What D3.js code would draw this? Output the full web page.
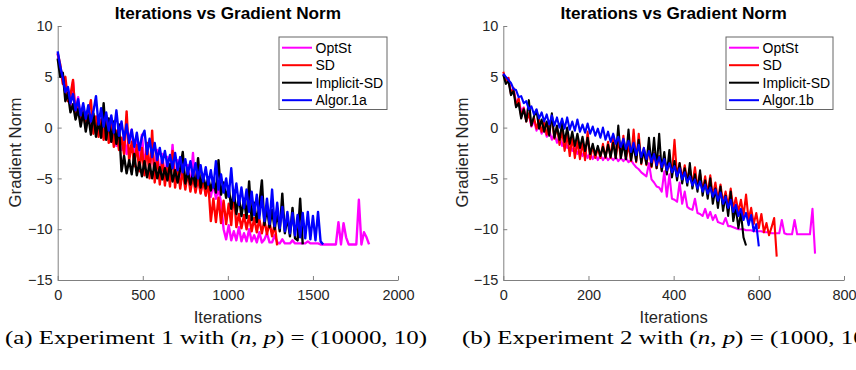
<!DOCTYPE html>
<html><head><meta charset="utf-8">
<script src="https://cdn.jsdelivr.net/npm/d3@7"></script>
<style>body{margin:0;background:#fff}svg{display:block}</style>
</head><body>
<svg id="c" width="856" height="370"></svg>
<script>
// ---------- data ----------
const seriesNamesA = ["OptSt", "SD", "Implicit-SD", "Algor.1a"];
const seriesNamesB = ["OptSt", "SD", "Implicit-SD", "Algor.1b"];
const seriesColors = ["#ff00ff", "#ff0000", "#000000", "#0000ff"];
const yTicks = [10, 5, 0, -5, -10, -15];
const xTicksA = [0, 500, 1000, 1500, 2000];
const xTicksB = [0, 200, 400, 600, 800];
const iterStepA = 15;   // iterations between stored samples, experiment 1
const iterStepB = 6;    // iterations between stored samples, experiment 2

// Experiment 1 (gradient norm, log scale values)
const optStA = [7.3,5.6,4.8,3.4,3.9,2.2,4.5,1.3,3.0,0.8, 2.0,0.3,1.6,-0.2,1.2,-0.5,0.9,-0.8,0.6,-1.1,
 0.3,-1.4,-0.1,-1.8,-0.4,-2.2,-0.7,-2.6,-1.0,-0.2, -3.0,-1.4,-3.4,-0.7,-3.8,-1.8,-4.1,-2.0,-4.5,-2.2,
 -4.8,-2.6,-5.0,-2.9,-5.2,-1.7,-5.4,-3.2,-5.6,-3.5, -5.8,-3.7,-6.0,-2.5,-6.2,-4.2,-6.4,-4.6,-6.6,-5.0,
 -6.8,-5.5,-7.0,-6.0,-7.4,-10.0,-11.0,-9.6,-11.1,-10.2, -11.1,-9.8,-11.2,-10.4,-11.2,-10.0,-11.2,-10.6,-11.3,-10.3,
 -11.3,-11.0,-10.4,-11.3,-11.3,-10.6,-11.3,-11.4,-11.0,-11.4, -11.4,-11.4,-11.1,-11.4,-11.4,-11.4,-11.4,-11.4,-11.2,-11.4,
 -11.4,-11.4,-11.4,-11.5,-11.5,-11.5,-11.5,-11.5,-11.5,-11.5, -9.3,-11.5,-9.4,-10.8,-11.5,-11.5,-11.5,-11.5,-7.1,-11.5,
 -10.3,-10.8,-11.5];
const sdA = [7.3,6.2,4.3,5.0,2.6,3.2,4.7,1.0,2.4,0.4, 1.8,-0.1,1.4,2.7,-0.6,1.1,-0.9,0.8,-1.2,1.2,
 -1.5,0.4,-1.9,-0.3,-2.2,-1.0,-2.6,1.6,-3.3,-1.4, -3.8,-1.7,-4.3,-2.0,-4.7,-1.5,-5.0,-0.3,-5.4,-2.8,
 -5.6,-3.0,-5.7,-3.5,-5.8,-2.3,-5.9,-3.8,-6.0,-4.2, -6.1,-4.4,-6.3,-4.8,-6.4,-5.0,-6.5,-5.2,-6.7,-5.4,
 -9.2,-7.0,-9.3,-6.9,-9.4,-7.2,-9.5,-7.5,-9.6,-6.2, -9.8,-8.5,-9.9,-8.6,-10.0,-8.7,-10.2,-8.9,-10.3,-9.0,
 -10.4,-9.1,-10.5,-9.3,-10.7,-9.5,-11.6];
const implicitSdA = [6.8,5.0,5.4,2.6,3.4,1.5,2.3,0.8,1.8,0.1, 1.5,-0.4,1.2,-0.7,1.4,-0.9,0.8,-1.0,2.4,-1.2,
 0.9,-1.4,0.6,-1.6,0.3,-4.3,-2.8,-4.5,-3.2,-4.6, -2.6,-4.7,-3.4,-4.8,-3.3,-4.9,-3.6,-5.0,-3.5,-5.0,
 -3.9,-5.1,-4.0,-5.2,-3.6,-5.3,-4.2,-5.4,-4.1,-2.4, -5.5,-4.3,-5.6,-4.5,-5.8,-3.0,-5.9,-4.7,-6.0,-4.9,
 -6.2,-5.1,-6.4,-3.2,-6.6,-5.4,-6.9,-5.8,-8.0,-6.2, -8.5,-6.8,-8.7,-7.0,-8.9,-5.3,-9.1,-7.4,-9.3,-7.6,
 -5.2,-9.6,-7.9,-9.8,-8.1,-10.0,-8.4,-10.2,-6.5,-10.4, -8.8,-10.7,-7.9,-10.9,-11.1,-7.0,-11.5];
const algor1a = [7.5,6.0,4.9,3.5,4.0,2.4,3.3,1.7,2.8,1.2, 2.4,0.9,2.2,0.6,1.6,3.1,0.3,1.9,0.1,1.5,
 -0.3,1.2,-0.5,1.7,-0.8,0.6,-1.2,0.3,-1.5,-0.2, -1.9,-0.5,-2.2,-0.9,-0.3,-2.6,-1.1,-2.9,-1.5,-3.2,
 -2.0,-3.5,-2.3,-3.8,-2.7,-4.0,-2.5,-4.2,-2.9,-4.4, -3.1,-4.6,-3.3,-4.8,-3.5,-5.0,-3.7,-5.3,-3.9,-5.6,
 -4.2,-5.9,-3.3,-6.1,-4.6,-6.4,-5.0,-6.8,-4.0,-7.2, -5.5,-7.6,-5.9,-7.9,-6.1,-8.3,-6.3,-8.6,-6.6,-8.9,
 -6.8,-9.2,-7.0,-9.5,-6.1,-9.7,-7.4,-9.9,-7.8,-10.2, -8.3,-10.4,-8.4,-10.6,-8.6,-10.8,-8.4,-10.9,-8.3,-11.0,
 -8.7,-11.1,-8.3,-11.2,-11.5];

// Experiment 2
const optStB = [5.3,4.7,4.9,3.5,3.8,2.5,2.8,1.6,2.0,0.8, 1.3,0.1,0.7,-0.3,0.3,-0.6,0.0,-0.9,-0.3,-1.2,
 -0.6,-1.5,-0.9,-1.8,-1.2,-2.0,-1.5,-2.3,-1.8,-2.6, -2.1,-2.8,-2.3,-3.0,-2.5,-3.1,-2.6,-3.2,-2.7,-3.2,
 -2.8,-3.2,-2.9,-3.2,-2.9,-3.3,-3.0,-3.3,-3.0,-3.4, -3.2,-3.6,-3.9,-4.1,-4.4,-4.6,-4.8,-3.5,-5.1,-5.4,
 -5.8,-5.9,-6.3,-4.3,-6.8,-4.6,-7.0,-7.1,-7.3,-5.4, -7.5,-6.3,-7.8,-8.0,-8.1,-7.0,-8.4,-8.5,-8.7,-8.0,
 -8.9,-8.3,-9.1,-8.6,-9.3,-9.4,-9.5,-8.9,-9.7,-9.7, -9.8,-9.9,-10.0,-10.0,-10.0,-10.1,-10.1,-10.1,-10.2,-10.2,
 -10.2,-10.2,-10.3,-10.3,-10.3,-10.4,-10.4,-10.4,-10.4,-9.1, -10.4,-10.5,-10.5,-10.5,-9.1,-10.5,-10.5,-10.5,-10.5,-10.5,
 -10.5,-8.0,-12.4];
const sdB = [5.5,4.6,4.9,3.3,3.9,2.1,2.9,1.1,1.9,0.6, 1.4,0.2,1.0,-0.1,0.8,-0.4,0.6,-0.7,0.3,0.8,
 -1.1,0.1,-1.7,-0.3,-2.3,-0.6,-2.8,-0.9,-3.0,-1.3, -3.1,-1.5,-3.2,-0.4,-3.1,-1.8,-3.0,-2.0,-3.0,-1.6,
 -3.0,-1.4,-3.0,-0.7,-3.0,-1.2,-3.0,-0.8,-3.1,-1.7, -3.3,-0.2,-3.4,-0.6,-3.6,-2.0,-3.7,-2.0,-3.9,-2.5,
 -4.0,-2.8,-4.2,-2.9,-4.4,-3.2,-4.6,-1.2,-4.8,-3.5, -5.0,-3.7,-5.2,-4.0,-5.6,-3.9,-5.9,-4.5,-6.2,-4.8,
 -6.5,-4.7,-6.8,-5.4,-7.1,-5.6,-7.4,-6.3,-7.7,-6.0, -8.0,-6.9,-8.3,-7.1,-8.7,-6.6,-9.1,-7.9,-9.5,-8.4,
 -9.9,-8.5,-10.3,-9.4,-10.6,-9.8,-8.9,-12.7];
const implicitSdB = [5.2,4.3,4.6,3.2,3.6,2.0,2.4,0.9,1.8,0.6, 2.7,0.2,1.1,1.7,-0.1,0.8,-0.4,0.6,-0.8,1.4,
 -1.0,0.2,-1.2,0.4,-1.4,0.0,-1.6,-0.4,-1.8,-0.6, -2.0,-0.9,-2.3,-1.0,-2.6,-1.6,-2.7,-1.8,-2.8,-1.9,
 -2.9,-1.7,-2.9,-1.5,-3.0,0.2,-3.0,-1.6,-3.1,-0.2, -3.2,-1.8,-3.3,-1.2,-3.5,-2.2,-3.6,-1.0,-3.8,-1.0,
 -4.0,-0.6,-4.3,-2.4,-4.6,-2.2,-4.9,-3.3,-5.2,-3.5, -5.5,-4.0,-5.7,-3.5,-6.0,-4.6,-6.3,-4.2,-6.7,-5.2,
 -7.0,-5.0,-7.5,-6.0,-7.9,-5.8,-8.2,-6.7,-8.7,-6.3, -9.2,-7.8,-9.9,-8.4,-10.8,-11.6];
const algor1b = [5.3,5.0,4.7,4.4,3.8,3.7,3.0,3.1,2.4,2.6, 1.8,2.1,1.3,1.8,0.9,1.5,0.6,1.3,0.3,1.2,
 0.2,1.0,0.0,0.9,-0.1,1.0,-0.2,0.6,-0.3,0.8, -0.4,0.3,-0.5,0.4,-0.6,0.1,-0.8,-0.1,-1.0,0.0,
 -1.2,-0.4,-1.4,-0.6,-1.6,-0.9,-1.9,-1.1,-2.1,-1.3, -2.4,-1.5,-2.7,-1.7,-2.9,-2.0,-3.1,-2.3,-3.4,-2.6,
 -3.7,-2.9,-3.9,-3.1,-4.2,-3.5,-4.4,-3.8,-4.8,-4.0, -5.1,-4.4,-5.4,-4.8,-5.7,-5.1,-6.0,-5.3,-6.3,-5.6,
 -6.5,-5.9,-6.8,-6.1,-7.2,-6.4,-7.5,-6.8,-7.9,-7.1, -8.3,-7.6,-8.7,-8.0,-9.1,-8.4,-9.6,-8.6,-10.2,-9.5,
 -11.7];

// ---------- drawing ----------
const svg = d3.select("#c");
const FONT = "'Liberation Sans', Arial, Helvetica, sans-serif";
const AXIS_COLOR = "#808080";
const TEXT_COLOR = "#262626";

function drawPanel(cfg) {
  const x = d3.scaleLinear().domain(cfg.xDomain).range([cfg.left, cfg.right]);
  const y = d3.scaleLinear().domain([-15, 10]).range([280, 26]);
  const g = svg.append("g");

  const yAxis = d3.axisLeft(y).tickValues(yTicks).tickSizeInner(-4).tickSizeOuter(0).tickPadding(5)
    .tickFormat(d3.format("d"));
  const xAxis = d3.axisBottom(x).tickValues(cfg.xTicks).tickSizeInner(-4).tickSizeOuter(0).tickPadding(10)
    .tickFormat(d3.format("d"));
  const ga = g.append("g").attr("transform", `translate(${cfg.left},0)`).call(yAxis);
  const gb = g.append("g").attr("transform", `translate(0,280)`).call(xAxis);
  [ga, gb].forEach(a => {
    a.select(".domain").attr("stroke", AXIS_COLOR).attr("stroke-width", 1);
    a.selectAll(".tick line").attr("stroke", AXIS_COLOR).attr("stroke-width", 1);
    a.selectAll(".tick text").attr("fill", TEXT_COLOR).style("font-family", FONT).style("font-size", "14.5px");
  });

  const line = d3.line().x(d => x(d[0])).y(d => y(d[1]));
  cfg.series.forEach((vals, k) => {
    const pts = vals.map((v, i) => [i * cfg.step, v]);
    g.append("path").datum(pts).attr("d", line)
      .attr("fill", "none").attr("stroke", seriesColors[k])
      .attr("stroke-width", cfg.lineW).attr("stroke-linejoin", "round");
  });

  const cx = (cfg.left + cfg.right) / 2;
  g.append("text").attr("x", cx).attr("y", 18.5).attr("text-anchor", "middle")
    .style("font-family", FONT).style("font-size", "17.2px").style("font-weight", "bold")
    .attr("fill", "#000").text("Iterations vs Gradient Norm");
  g.append("text").attr("x", cx).attr("y", 322.8).attr("text-anchor", "middle")
    .style("font-family", FONT).style("font-size", "16.6px").attr("fill", TEXT_COLOR).text("Iterations");
  g.append("text").attr("transform", `translate(${cfg.ylabelX},152.5) rotate(-90)`).attr("text-anchor", "middle")
    .style("font-family", FONT).style("font-size", "16.8px").attr("fill", TEXT_COLOR).text("Gradient Norm");

  const lg = g.append("g");
  lg.append("rect").attr("x", cfg.legX).attr("y", 37).attr("width", cfg.legW).attr("height", 72.5)
    .attr("fill", "#fff").attr("stroke", "#666").attr("stroke-width", 1);
  cfg.names.forEach((name, k) => {
    const cy = 47.7 + k * 17.5;
    lg.append("line").attr("x1", cfg.legX + 3).attr("x2", cfg.legX + 33).attr("y1", cy).attr("y2", cy)
      .attr("stroke", seriesColors[k]).attr("stroke-width", 2);
    lg.append("text").attr("x", cfg.legX + 36.5).attr("y", cy + 5).style("font-family", FONT)
      .style("font-size", "14px").attr("fill", "#000").text(name);
  });

  const cap = svg.append("text").attr("x", cfg.capX).attr("y", 343.5)
    .style("font-family", "'Liberation Serif', 'Times New Roman', serif").style("font-size", "19px")
    .attr("fill", "#000").attr("textLength", cfg.capLen).attr("lengthAdjust", "spacingAndGlyphs");
  cap.append("tspan").text(cfg.capPre + " (");
  cap.append("tspan").style("font-style", "italic").text("n");
  cap.append("tspan").text(", ");
  cap.append("tspan").style("font-style", "italic").text("p");
  cap.append("tspan").text(") = " + cfg.capPost);
}

drawPanel({
  left: 57.7, right: 398, xDomain: [0, 2000], xTicks: xTicksA, step: iterStepA, lineW: 2.4,
  series: [optStA, sdA, implicitSdA, algor1a], names: seriesNamesA,
  legX: 279, legW: 108, ylabelX: 21,
  capX: 5, capLen: 422, capPre: "(a) Experiment 1 with", capPost: "(10000, 10)"
});
drawPanel({
  left: 503.3, right: 844, xDomain: [0, 800], xTicks: xTicksB, step: iterStepB, lineW: 2.1,
  series: [optStB, sdB, implicitSdB, algor1b], names: seriesNamesB,
  legX: 726, legW: 107, ylabelX: 467.5,
  capX: 462, capLen: 412, capPre: "(b) Experiment 2 with", capPost: "(1000, 10)"
});
</script>
</body></html>
